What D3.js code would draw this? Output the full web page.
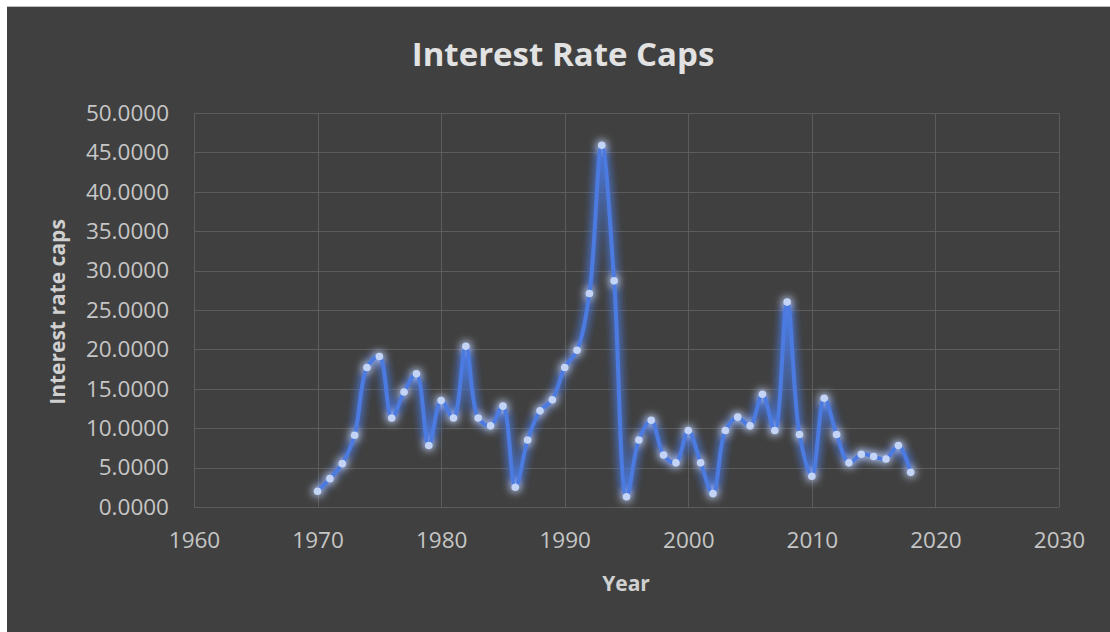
<!DOCTYPE html>
<html>
<head>
<meta charset="utf-8">
<script src="https://cdn.jsdelivr.net/npm/d3@7"></script>
<style>
  html, body { margin: 0; padding: 0; background: #ffffff; }
  svg { display: block; }
  text { font-family: "Open Sans", "DejaVu Sans", sans-serif; }
</style>
</head>
<body>
<svg id="chart" width="1110" height="632"></svg>
<script>
// Interest rate caps by year
const years = [
  1970, 1971, 1972, 1973, 1974, 1975, 1976, 1977, 1978, 1979,
  1980, 1981, 1982, 1983, 1984, 1985, 1986, 1987, 1988, 1989,
  1990, 1991, 1992, 1993, 1994, 1995, 1996, 1997, 1998, 1999,
  2000, 2001, 2002, 2003, 2004, 2005, 2006, 2007, 2008, 2009,
  2010, 2011, 2012, 2013, 2014, 2015, 2016, 2017, 2018
];
const rateCaps = [
  2.0, 3.6, 5.5, 9.1, 17.7, 19.1, 11.3, 14.6, 16.9, 7.8,
  13.5, 11.3, 20.4, 11.3, 10.3, 12.8, 2.5, 8.5, 12.2, 13.6,
  17.7, 19.9, 27.1, 45.9, 28.7, 1.3, 8.5, 11.0, 6.6, 5.6,
  9.7, 5.6, 1.7, 9.7, 11.4, 10.3, 14.3, 9.7, 26.0, 9.2,
  3.9, 13.8, 9.2, 5.6, 6.7, 6.4, 6.1, 7.8, 4.4
];
const xTicks = [1960, 1970, 1980, 1990, 2000, 2010, 2020, 2030];
const yTicks = [0, 5, 10, 15, 20, 25, 30, 35, 40, 45, 50];

const data = years.map((y, i) => ({ year: y, value: rateCaps[i] }));

const svg = d3.select("#chart");
const W = 1110, H = 632;

// chart panel
svg.append("rect")
  .attr("x", 7).attr("y", 6)
  .attr("width", W - 7).attr("height", H - 6)
  .attr("fill", "#404040");
svg.append("line")
  .attr("x1", 7).attr("x2", W).attr("y1", 6.5).attr("y2", 6.5)
  .attr("stroke", "#bdbdbd").attr("stroke-width", 1);

const plot = { left: 194, right: 1059, top: 113, bottom: 507 };

const x = d3.scaleLinear().domain([1960, 2030]).range([plot.left, plot.right]);
const y = d3.scaleLinear().domain([0, 50]).range([plot.bottom, plot.top]);

// soft glow around the series
const defs = svg.append("defs");
const glow = defs.append("filter").attr("id", "glow")
  .attr("x", "-20%").attr("y", "-20%").attr("width", "140%").attr("height", "140%");
glow.append("feGaussianBlur").attr("in", "SourceGraphic").attr("stdDeviation", 5).attr("result", "blur");
glow.append("feComponentTransfer").attr("in", "blur").attr("result", "blurBright")
  .append("feFuncA").attr("type", "linear").attr("slope", 1.8);
const merge = glow.append("feMerge");
merge.append("feMergeNode").attr("in", "blurBright");
merge.append("feMergeNode").attr("in", "SourceGraphic");

// gridlines
const grid = svg.append("g");
grid.selectAll("line.h").data(yTicks).join("line")
  .attr("x1", plot.left).attr("x2", plot.right)
  .attr("y1", d => Math.round(y(d)) + 0.5).attr("y2", d => Math.round(y(d)) + 0.5)
  .attr("stroke", "#5c5c5c").attr("stroke-width", 1);
grid.selectAll("line.v").data(xTicks).join("line")
  .attr("y1", plot.top).attr("y2", plot.bottom)
  .attr("x1", d => Math.round(x(d)) + 0.5).attr("x2", d => Math.round(x(d)) + 0.5)
  .attr("stroke", "#5c5c5c").attr("stroke-width", 1);

// axes (labels only)
const yAxis = svg.append("g")
  .attr("transform", `translate(${plot.left},0)`)
  .call(d3.axisLeft(y).tickValues(yTicks).tickFormat(d3.format(".4f")).tickSize(0).tickPadding(25));
const xAxis = svg.append("g")
  .attr("transform", `translate(0,${plot.bottom})`)
  .call(d3.axisBottom(x).tickValues(xTicks).tickFormat(d3.format("d")).tickSize(0).tickPadding(25));
[yAxis, xAxis].forEach(a => {
  a.select(".domain").remove();
  a.selectAll("text")
    .attr("fill", "#c6c6c6")
    .style("font-family", "'Open Sans', sans-serif")
    .style("font-size", "22.5px");
});

// series line
const line = d3.line()
  .x(d => x(d.year))
  .y(d => y(d.value))
  .curve(d3.curveCatmullRom.alpha(0.5));

const series = svg.append("g").attr("filter", "url(#glow)");
series.append("path")
  .datum(data)
  .attr("d", line)
  .attr("fill", "none")
  .attr("stroke", "#4b7ae0")
  .attr("stroke-width", 4)
  .attr("stroke-linejoin", "round");
series.selectAll("circle").data(data).join("circle")
  .attr("cx", d => x(d.year))
  .attr("cy", d => y(d.value))
  .attr("r", 3.8)
  .attr("fill", "#c3d4f6");

// titles
svg.append("text")
  .attr("x", 563).attr("y", 66)
  .attr("text-anchor", "middle")
  .attr("fill", "#e2e2e2")
  .style("font-size", "33px").style("font-weight", "700")
  .text("Interest Rate Caps");

svg.append("text")
  .attr("x", 626).attr("y", 591)
  .attr("text-anchor", "middle")
  .attr("fill", "#d0d0d0")
  .style("font-size", "21px").style("font-weight", "700")
  .text("Year");

svg.append("text")
  .attr("transform", "translate(65,312) rotate(-90)")
  .attr("text-anchor", "middle")
  .attr("fill", "#d0d0d0")
  .style("font-size", "21px").style("font-weight", "700")
  .text("Interest rate caps");
</script>
</body>
</html>
